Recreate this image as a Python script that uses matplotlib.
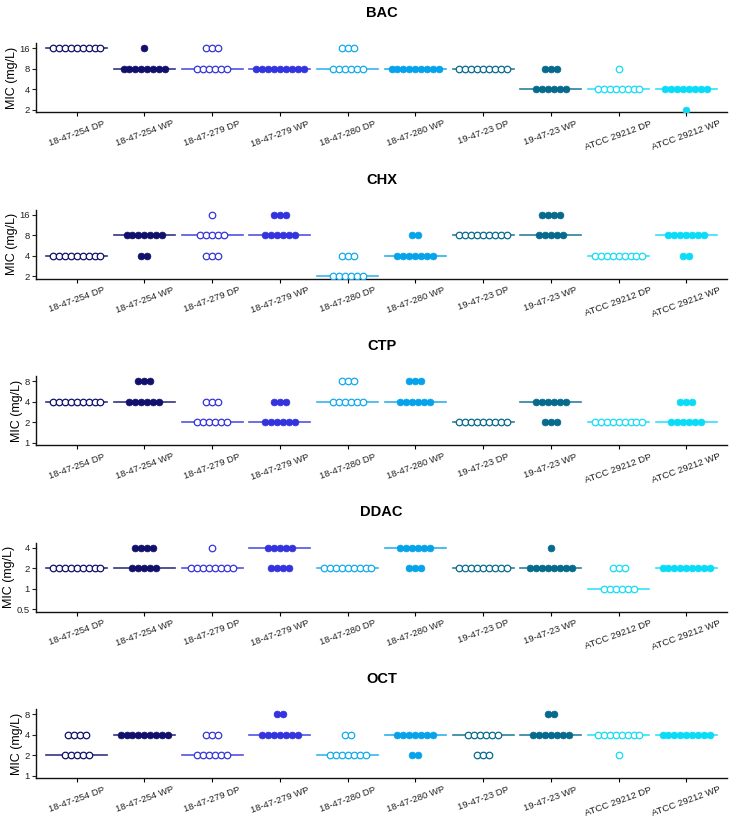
import numpy as np
import matplotlib
matplotlib.use('Agg')
import matplotlib.pyplot as plt
from matplotlib.ticker import FixedLocator, FixedFormatter, NullLocator

plt.rcParams['font.family'] = ['Liberation Sans', 'DejaVu Sans']

strains = ['18-47-254 DP', '18-47-254 WP', '18-47-279 DP', '18-47-279 WP',
           '18-47-280 DP', '18-47-280 WP', '19-47-23 DP', '19-47-23 WP',
           'ATCC 29212 DP', 'ATCC 29212 WP']
strain_colors = ['#11116c', '#11116c', '#3434de', '#3434de', '#12aaee',
                 '#06a3ea', '#066a8c', '#066a8c', '#14dcf8', '#0adcf8']
filled = [False, True, False, True, False, True, False, True, False, True]

agents = ['BAC', 'CHX', 'CTP', 'DDAC', 'OCT']
agent_ticks = [[2, 4, 8, 16], [2, 4, 8, 16], [1, 2, 4, 8], [0.5, 1, 2, 4], [1, 2, 4, 8]]

# MIC value -> number of replicates, one dict per strain
bac = [{16: 9}, {16: 1, 8: 8}, {16: 3, 8: 6}, {8: 9}, {16: 3, 8: 6},
       {8: 9}, {8: 9}, {8: 3, 4: 6}, {8: 1, 4: 8}, {4: 8, 2: 1}]
chx = [{4: 9}, {8: 7, 4: 2}, {16: 1, 8: 5, 4: 3}, {16: 3, 8: 6}, {4: 3, 2: 6},
       {8: 2, 4: 7}, {8: 9}, {16: 4, 8: 5}, {4: 9}, {8: 7, 4: 2}]
ctp = [{4: 9}, {8: 3, 4: 6}, {4: 3, 2: 6}, {4: 3, 2: 6}, {8: 3, 4: 6},
       {8: 3, 4: 6}, {2: 9}, {4: 6, 2: 3}, {2: 9}, {4: 3, 2: 6}]
ddac = [{2: 9}, {4: 4, 2: 5}, {4: 1, 2: 8}, {4: 5, 2: 4}, {2: 9},
        {4: 6, 2: 3}, {2: 9}, {4: 1, 2: 8}, {2: 3, 1: 6}, {2: 9}]
oct_ = [{4: 4, 2: 5}, {4: 9}, {4: 3, 2: 6}, {8: 2, 4: 7}, {4: 2, 2: 7},
        {4: 7, 2: 2}, {4: 6, 2: 3}, {8: 2, 4: 7}, {4: 8, 2: 1}, {4: 9}]
agent_data = [bac, chx, ctp, ddac, oct_]

W, H = 739, 825
fig = plt.figure(figsize=(W / 100, H / 100), dpi=100)

left_px, width_px = 36, 691
ax_h_px = 69
step = 0.088  # horizontal dot spacing in category units

for i, (name, data, ticks) in enumerate(zip(agents, agent_data, agent_ticks)):
    top_px = 43 + 166.5 * i
    ax = fig.add_axes([left_px / W, 1 - (top_px + ax_h_px) / H, width_px / W, ax_h_px / H])

    for j, counts in enumerate(data):
        col = strain_colors[j]
        vals = []
        for v, n in counts.items():
            vals += [v] * n
        med = np.median(vals)
        ax.plot([j - 0.45, j + 0.45], [med, med], color=col, lw=1.2, zorder=1, alpha=0.85)
        for v, n in counts.items():
            xs = j + (np.arange(n) - (n - 1) / 2) * step
            ys = np.full(n, v)
            if filled[j]:
                ax.scatter(xs, ys, s=24, color=col, edgecolor=col, lw=0.5, zorder=3)
            else:
                ax.scatter(xs, ys, s=22, facecolor='white', edgecolor=col, lw=0.9, zorder=3)

    ax.set_yscale('log', base=2)
    ax.set_ylim(ticks[0] * 2 ** -0.1, ticks[-1] * 2 ** 0.25)
    ax.yaxis.set_major_locator(FixedLocator(ticks))
    ax.yaxis.set_major_formatter(FixedFormatter([('%g' % t) for t in ticks]))
    ax.yaxis.set_minor_locator(NullLocator())
    ax.set_xlim(-0.6, len(strains) - 0.4)
    ax.set_xticks(range(len(strains)))
    ax.set_xticklabels(strains, rotation=20, ha='center', fontsize=6.8, color='#222222')
    ax.tick_params(axis='y', labelsize=6.8, length=3, width=0.8, pad=1.5, colors='#222222')
    ax.tick_params(axis='x', length=3, width=0.8, pad=2)
    for s in ['top', 'right']:
        ax.spines[s].set_visible(False)
    for s in ['left', 'bottom']:
        ax.spines[s].set_linewidth(1.0)
        ax.spines[s].set_color('#111111')
    ax.set_ylabel('MIC (mg/L)', fontsize=9, labelpad=1)
    fig.text((left_px + width_px / 2) / W, 1 - (top_px - 30) / H, name,
             ha='center', va='center', fontsize=10.5, fontweight='bold')

fig.savefig('out.png', dpi=100)
